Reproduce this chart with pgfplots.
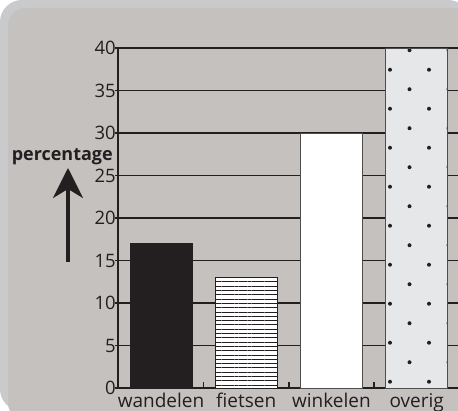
\documentclass[border=0pt]{standalone}
\usepackage{pgfplots}
\pgfplotsset{compat=1.18}
\usepackage{fontspec}
\setmainfont{Open Sans}
\usetikzlibrary{patterns.meta,arrows.meta}
\definecolor{panel}{HTML}{C5C1BF}
\definecolor{frame}{HTML}{C9CACC}
\definecolor{ink}{HTML}{231F20}
\definecolor{lightfill}{HTML}{E6E7E9}
\pgfdeclarepattern{
  name=mydots,
  type=uncolored,
  bottom left={\pgfpoint{-10pt}{0pt}},
  top right={\pgfpoint{29pt}{39pt}},
  tile size={\pgfpoint{39pt}{39pt}},
  code={
    \pgfpathcircle{\pgfpoint{0pt}{29.25pt}}{2pt}
    \pgfpathcircle{\pgfpoint{19.5pt}{9.75pt}}{2pt}
    \pgfusepath{fill}
  }
}
\begin{document}
\begin{tikzpicture}[x=1pt,y=1pt]
\path[use as bounding box] (0,0) rectangle (458,411);
\fill[white] (0,0) rectangle (458,411);
\fill[frame,rounded corners=22pt] (0,0) -- (0,411) -- (470,411) -- (470,0) -- cycle;
\fill[panel,rounded corners=18pt] (8,-10) -- (8,403) -- (470,403) -- (470,-10) -- cycle;
\begin{axis}[
  at={(118pt,23pt)}, anchor=south west,
  scale only axis, width=342pt, height=340pt,
  xmin=-0.505, xmax=3.509, ymin=0, ymax=40,
  axis x line=bottom, axis y line=left,
  axis line style={line width=2pt, color=ink, -},
  ytick={0,5,...,40},
  ymajorgrids, grid style={line width=1.8pt, color=ink},
  ytick style={line width=1.8pt, color=ink},
  tick align=outside, major tick length=3pt,
  xtick={0,1,2,3},
  xticklabels={wandelen,fietsen,winkelen,overig},
  xtick style={draw=none},
  xticklabel style={anchor=base, yshift=-16.5pt, inner sep=0pt, text=ink, font=\fontsize{19}{19}\selectfont},
  yticklabel style={anchor=east, xshift=1pt, inner sep=0pt, text=ink, font=\fontsize{18.5}{18.5}\selectfont},
  /pgf/number format/assume math mode=true,
  clip=false,
]
\addplot[ybar, bar width=62pt, fill=ink, draw=ink, line width=0.8pt] coordinates {(0,17)};
\addplot[ybar, bar width=62pt, fill=white, draw=ink, line width=0.8pt,
  postaction={pattern={Lines[angle=0,distance=4.3pt,line width=1pt]}, pattern color=ink}] coordinates {(1,13)};
\addplot[ybar, bar width=62pt, fill=white, draw=ink!80, line width=0.8pt] coordinates {(2,30)};
\addplot[ybar, bar width=62pt, fill=lightfill, draw=ink!80, line width=0.8pt,
  postaction={pattern=mydots, pattern color=ink}] coordinates {(3,40)};
% small upward ticks between bars
\addplot[ycomb, line width=1.6pt, color=ink, mark=none] coordinates {(0.5,0.7) (1.5,0.7) (2.5,0.7)};
\end{axis}
\node[font=\bfseries\fontsize{18}{18}\selectfont, text=ink, anchor=east, inner sep=0pt] at (113,254) {percentage};
\draw[ink, line width=3.5pt, -{Stealth[length=30pt,width=30pt,inset=9pt]}] (68,149) -- (68,243);
\end{tikzpicture}
\end{document}
